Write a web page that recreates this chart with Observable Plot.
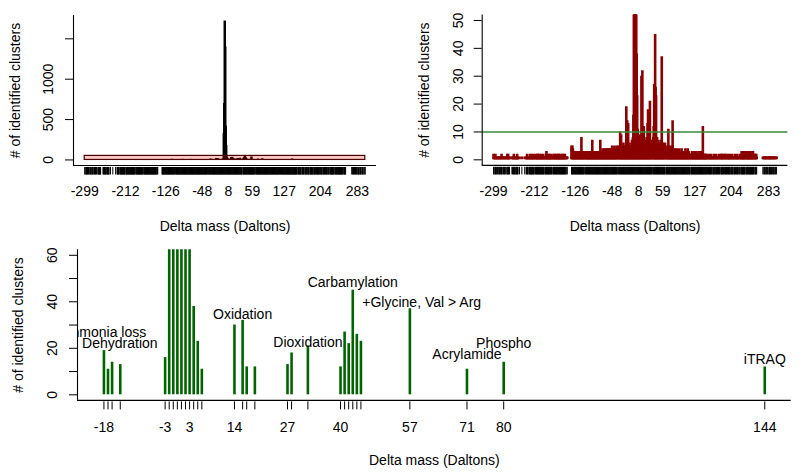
<!DOCTYPE html>
<html>
<head>
<meta charset="utf-8">
<script src="https://cdn.jsdelivr.net/npm/d3@7"></script>
<script src="https://cdn.jsdelivr.net/npm/@observablehq/plot@0.6"></script>
<style>
  html, body { margin: 0; padding: 0; background: #ffffff; }
  #wrap { position: relative; width: 800px; height: 475px; background: #ffffff; overflow: hidden; }
  #wrap > div { position: absolute; }
  #wrap svg { display: block; }
</style>
</head>
<body>
<div id="wrap">
  <div id="p1" style="left:0px;top:0px"></div>
  <div id="p2" style="left:400px;top:0px"></div>
  <div id="p3" style="left:0px;top:237px"></div>
</div>
<script>
// ---------- DATA ----------
// counts of identified clusters per integer delta mass; 0 = mass absent
const massStartA = -299;
const countsA = [
  2,1,0,1,2,1,1,0,1,1, 0,1,1,1,0,1,1,2,1,0, 1,1,0,1,1,1,0,0,1,2, 1,2,1,1,1,0,0,0,0,1,
  1,0,1,2,1,1,0,1,1,1, 2,1,1,0,0,1,0,0,0,0, 1,0,0,0,0,0,1,0,0,1, 1,2,1,1,0,1,1,2,1,1,
  1,2,1,1,1,2,1,0,1,1, 2,1,1,2,2,1,1,2,1,1
];
const massStartB = -199;
const countsB = [
  1,2,1,1,1,2,1,1,0,1, 1,2,3,2,1,1,2,1,1,2, 1,1,2,1,1,0,1,2,1,1, 2,1,1,2,1,1,1,2,2,1,
  1,2,1,1,1,2,1,1,2,1, 1,2,1,1,0,1,1,0,0,0, 0,0,0,0,0
];
const massStartC = -134;
const countsC = [
  5,4,5,4,3,
  2,3,2,2,3,2,2,3,2,2, 3,2,2,3,2,3,8,3,2,3, 2,3,2,0,3,2,3,2,3,2, 3,2,3,3,2,3,2,3,3,7,
  3,2,3,3,2,3,3,2,3,3, 3,2,3,3,3,2,7,3,3,3, 3,4,3,3,4,3,3,4,3,3, 4,3,4,4,3,4,4,3,4,4,
  4,5,4,4,3,4,5,4,4,3, 4,5,4,0,5,4,4,5,10,4, 9,4,5,4,3,6,5,4,5,4,3
];
const massStartD = -18;
const countsD = [
  19,11,14,5,13,6,4,5,4,
  5,4,6,7,5,8,
  16,330,700,1720,1400,420,180,38,23,11,
  8,6,7,9,6,5,7,
  30,8,32,12,9,12,7,6,7,5,6,8,7,
  13,18,6,7,8,21,6,5,6,7,5,0,8,
  12,27,22,45,26,23,7,8,6,5,7,6,5,4,6,5,7,
  37,5,6,4,5,4,3,6,0,4,3,4,5,3,
  11,4,3,5,3,4,3,4,5,
  14,3,4,3,2,4,3,2,3,4,3,2,3,2,4,3,2,3,2,4,3,
  2,3,2,1,2,3,4,2,1,2, 3,4,2,3,2,1,2,0,2,2, 3,2,1,2,2,3,2,1,2,3, 2,2,1,2,3,2,1,2,2,3, 2,1,2,
  12,
  2,1,2,2,1,2
];
const massStartE = 151;
const countsE = [
  1,2,1,1,0,1,2,1,1,1, 2,1,1,0,1,1,2,1,1,0, 1,2,1,1,1,0,1,2,1,1, 0,1,2,2,1,1,2,1,0,1,
  2,2,1,1,0,1,2,1,1,1, 2,1,0,1,1,2,1,1,0,1, 1,2,1,0,1,1,2,1,1,0, 1,1,2,0,1,3,2,3,2,1,
  3,2,1,0,2,3,3,2,1,2, 3,2,1,2,3,2,2,1,2,3, 2,1,0,2,2,1,2,1,0,0, 0,0,0,0,0,0,0,0,0,0,
  1,0,1,1,1,0,1,1,1,0, 1,1,0,1,1,1,1,0,1,1, 1,0,1,1,1,0,1,1,0,1
];

const topXTickLabels = [-299, -212, -126, -48, 8, 59, 127, 204, 283];
const overviewYTicks = [0, 500, 1000, 1500];
const overviewYLabels = [0, 500, 1000];
const overviewYMax = 1720;
const zoomWindowX = [-299, 300];
const zoomWindowY = [0, 50];

const zoomYLimit = [0, 50];
const zoomYTicks = [0, 10, 20, 30, 40, 50];
const threshold = 10;

const detailYLimit = [0, 60];
const detailYTicks = [0, 10, 20, 30, 40, 50, 60];
const detailYLabels = [0, 20, 40, 60];
const detailXLabels = [-18, -3, 3, 14, 27, 40, 57, 71, 80, 144];

const annotationLabels = ["Ammonia loss", "Dehydration", "Oxidation", "Dioxidation", "Carbamylation",
  "+Glycine, Val > Arg", "Acrylamide", "Phospho", "iTRAQ"];
const annotationMass = [-18.4, -14.1, 16, 32, 43, 59.9, 71, 80, 144];
const annotationCount = [26.7, 22.2, 34.5, 22.6, 48.2, 39.8, 17.2, 22.2, 15];

const xTitle = "Delta mass (Daltons)";
const yTitle = "# of identified clusters";

// ---------- build tables ----------
const segments = [[massStartA, countsA], [massStartB, countsB], [massStartC, countsC], [massStartD, countsD], [massStartE, countsE]];
const rows = [];
for (const [start, counts] of segments) counts.forEach((c, i) => { if (c > 0) rows.push({mass: start + i, count: c}); });
const masses = rows.map(d => d.mass);
const detailRows = rows.filter(d => d.count > threshold);
const detailMasses = detailRows.map(d => d.mass);
const annotations = annotationLabels.map((t, i) => ({text: t, mass: annotationMass[i], count: annotationCount[i]}));
const zoomWindow = [{x1: zoomWindowX[0], x2: zoomWindowX[1], y1: zoomWindowY[0], y2: zoomWindowY[1]}];

// R-style 4% axis padding
const pad = ([a, b]) => [a - 0.04 * (b - a), b + 0.04 * (b - a)];
const topXDomain = pad(d3.extent(masses));
const overviewYDomain = pad([0, overviewYMax]);
const zoomYDomain = pad(zoomYLimit);
const detailXDomain = pad(d3.extent(detailMasses));
const detailYDomain = pad(detailYLimit);

const FONT = '"Liberation Sans", Arial, Helvetica, sans-serif';
const font = {fontFamily: FONT, fontSize: 14, fill: "black", textAnchor: "middle", lineAnchor: "middle"};
const svgStyle = {background: "white", fontFamily: FONT, fontSize: "14px", color: "black"};

function frameMarks(xd, yd) {
  return [
    Plot.ruleX([xd[0]], {stroke: "black", strokeWidth: 1.1}),
    Plot.ruleY([yd[0]], {stroke: "black", strokeWidth: 1.1})
  ];
}

// ---------- panel 1: overview ----------
const p1 = Plot.plot({
  width: 400, height: 237,
  marginLeft: 73, marginRight: 24, marginTop: 15, marginBottom: 72,
  style: svgStyle,
  x: {domain: topXDomain, axis: null},
  y: {domain: overviewYDomain, axis: null},
  marks: [
    Plot.ruleX(rows, {x: "mass", y1: 0, y2: "count", stroke: "black", strokeWidth: 2.5}),
    Plot.rect(zoomWindow, {x1: "x1", x2: "x2", y1: "y1", y2: "y2", fill: "red", fillOpacity: 0.22, stroke: "#4a0000", strokeWidth: 1.2}),
    ...frameMarks(topXDomain, overviewYDomain),
    Plot.axisY({ticks: overviewYTicks, tickSize: 8, tickFormat: () => "", label: null, stroke: "black"}),
    Plot.text(overviewYLabels, {y: d => d, text: d => String(d), frameAnchor: "left", dx: -25, rotate: -90, ...font}),
    Plot.axisX({ticks: masses, tickSize: 7.5, dy: 2, tickFormat: () => "", label: null, stroke: "black"}),
    Plot.text(topXTickLabels, {x: d => d, text: d => String(d), frameAnchor: "bottom", dy: 26, ...font}),
    Plot.text([xTitle], {frameAnchor: "bottom", dy: 61, ...font}),
    Plot.text([yTitle], {frameAnchor: "left", dx: -58, rotate: -90, ...font})
  ]
});
document.getElementById("p1").appendChild(p1);

// ---------- panel 2: zoomed ----------
const p2 = Plot.plot({
  width: 400, height: 237,
  marginLeft: 81.7, marginRight: 12.6, marginTop: 14.4, marginBottom: 72.1,
  style: svgStyle,
  x: {domain: topXDomain, axis: null},
  y: {domain: zoomYDomain, axis: null},
  marks: [
    Plot.ruleX(rows, {x: "mass", y1: 0, y2: "count", stroke: "#8B0000", strokeWidth: 2.6, clip: true}),
    Plot.ruleY([threshold], {stroke: "#3a8a3a", strokeWidth: 1.5}),
    ...frameMarks(topXDomain, zoomYDomain),
    Plot.axisY({ticks: zoomYTicks, tickSize: 8, tickFormat: () => "", label: null, stroke: "black"}),
    Plot.text(zoomYTicks, {y: d => d, text: d => String(d), frameAnchor: "left", dx: -24, rotate: -90, ...font}),
    Plot.axisX({ticks: masses, tickSize: 7.5, dy: 2, tickFormat: () => "", label: null, stroke: "black"}),
    Plot.text(topXTickLabels, {x: d => d, text: d => String(d), frameAnchor: "bottom", dy: 26, ...font}),
    Plot.text([xTitle], {frameAnchor: "bottom", dy: 61, ...font}),
    Plot.text([yTitle], {frameAnchor: "left", dx: -58, rotate: -90, ...font})
  ]
});
document.getElementById("p2").appendChild(p2);

// ---------- panel 3: annotated peaks ----------
const p3 = Plot.plot({
  width: 800, height: 238,
  marginLeft: 77, marginRight: 9.3, marginTop: 12.2, marginBottom: 75.1,
  style: svgStyle,
  x: {domain: detailXDomain, axis: null},
  y: {domain: detailYDomain, axis: null},
  marks: [
    Plot.ruleX(detailRows, {x: "mass", y1: 0, y2: "count", stroke: "#006400", strokeWidth: 2.6, clip: true}),
    Plot.text(annotations, {x: "mass", y: "count", text: "text", clip: true, ...font}),
    ...frameMarks(detailXDomain, detailYDomain),
    Plot.axisY({ticks: detailYTicks, tickSize: 8, tickFormat: () => "", label: null, stroke: "black"}),
    Plot.text(detailYLabels, {y: d => d, text: d => String(d), frameAnchor: "left", dx: -25, rotate: -90, ...font}),
    Plot.axisX({ticks: detailMasses, tickSize: 8, dy: 1.5, tickFormat: () => "", label: null, stroke: "black"}),
    Plot.text(detailXLabels, {x: d => d, text: d => String(d), frameAnchor: "bottom", dy: 27, ...font}),
    Plot.text([xTitle], {frameAnchor: "bottom", dy: 60, ...font}),
    Plot.text([yTitle], {frameAnchor: "left", dx: -59, rotate: -90, ...font})
  ]
});
document.getElementById("p3").appendChild(p3);
</script>
</body>
</html>
